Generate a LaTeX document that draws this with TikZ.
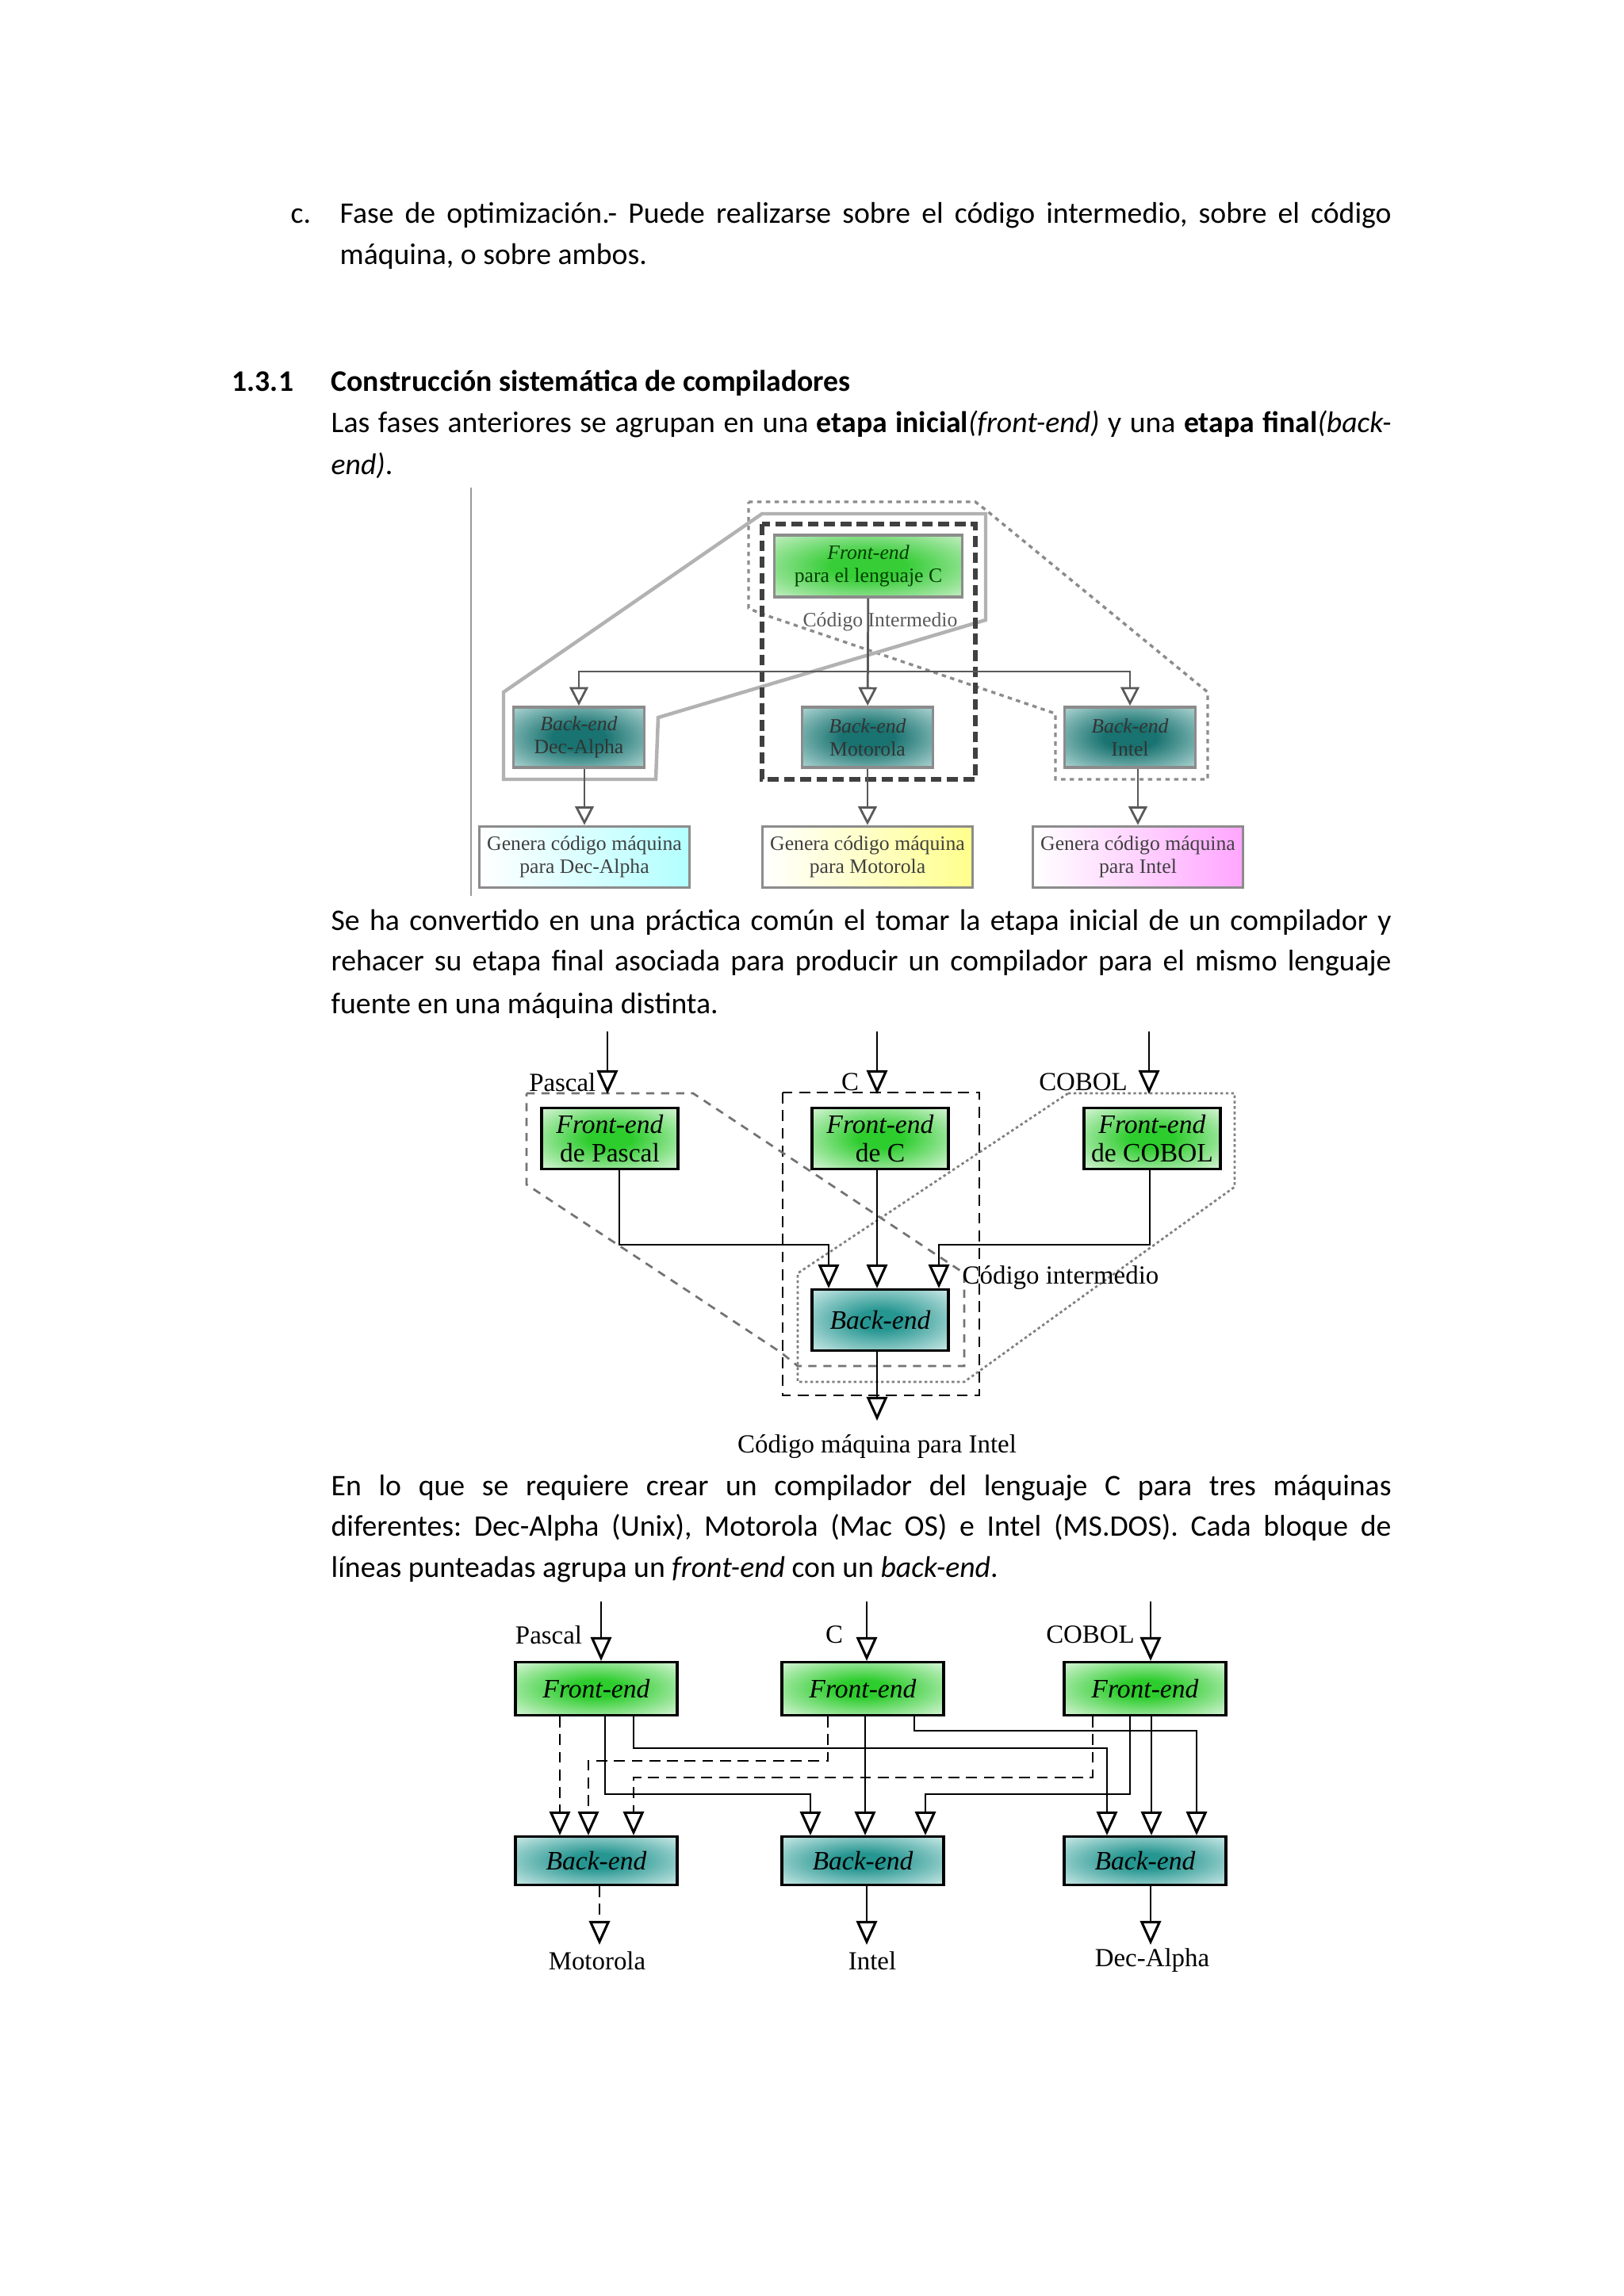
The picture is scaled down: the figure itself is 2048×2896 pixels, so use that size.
\documentclass[tikz,border=0pt]{standalone}
\usepackage{fontspec}
\setmainfont{Carlito}
\newfontfamily\diagfont{Liberation Serif}
\usetikzlibrary{arrows.meta}
\newlength\pxu
\setlength\pxu{0.010254cm}
\frenchspacing
\definecolor{feC}{RGB}{45,205,45}
\definecolor{feE}{RGB}{232,248,232}
\definecolor{beC}{RGB}{38,150,145}
\definecolor{beE}{RGB}{218,241,239}
\definecolor{feCa}{RGB}{55,205,55}
\definecolor{feEa}{RGB}{220,244,220}
\definecolor{beCa}{RGB}{25,115,112}
\definecolor{beEa}{RGB}{200,230,228}
\pgfdeclareradialshading{fegreen}{\pgfpoint{0bp}{0bp}}{color(0bp)=(feC); color(8bp)=(feC); color(38bp)=(feE); color(50bp)=(feE)}
\pgfdeclareradialshading{beteal}{\pgfpoint{0bp}{0bp}}{color(0bp)=(beC); color(8bp)=(beC); color(38bp)=(beE); color(50bp)=(beE)}
\pgfdeclareradialshading{fegreena}{\pgfpoint{0bp}{0bp}}{color(0bp)=(feCa); color(10bp)=(feCa); color(40bp)=(feEa); color(50bp)=(feEa)}
\pgfdeclareradialshading{betealx}{\pgfpoint{0bp}{0bp}}{color(0bp)=(beCa); color(10bp)=(beCa); color(40bp)=(beEa); color(50bp)=(beEa)}

\begin{document}
\begin{tikzpicture}[x=0.010254cm,y=-0.010254cm]
  \useasboundingbox[fill=white] (0,0) rectangle (2048,2896);
  \tikzstyle{para}=[anchor=base west,inner sep=0pt,font=\fontsize{11}{13}\selectfont]
  \tikzstyle{tri}=[-{Triangle[open,length=0.31cm,width=0.27cm,line width=0.9pt]}]
  \tikzstyle{tria}=[-{Triangle[open,length=0.24cm,width=0.24cm,line width=0.8pt]}]
  \tikzstyle{conn}=[draw=black,line width=0.6pt]
  \tikzstyle{conna}=[draw=black!65,line width=0.8pt]
  \tikzstyle{lbl}=[inner sep=0pt,font=\diagfont\fontsize{9.6}{10}\selectfont]
  \tikzstyle{fbox}=[draw=black,line width=0.9pt,shading=fegreen,align=center,inner sep=0pt,font=\diagfont\fontsize{9.8}{10.4}\selectfont]
  \tikzstyle{bbox}=[draw=black,line width=0.9pt,shading=beteal,align=center,inner sep=0pt,font=\diagfont\fontsize{9.8}{10.4}\selectfont]
  \tikzstyle{fboxa}=[draw=black!45,line width=1.1pt,shading=fegreena,align=center,inner sep=0pt,text=green!25!black,font=\diagfont\fontsize{7.5}{8.3}\selectfont,minimum width=237\pxu,minimum height=78\pxu]
  \tikzstyle{bboxa}=[draw=black!45,line width=1.1pt,shading=betealx,align=center,inner sep=0pt,text=black!80,font=\diagfont\fontsize{7.5}{8.3}\selectfont,minimum width=165\pxu,minimum height=76\pxu]
  \tikzstyle{gboxa}=[draw=black!45,line width=1.1pt,align=center,inner sep=0pt,text=black!75,font=\diagfont\fontsize{7.5}{8.3}\selectfont,minimum width=265\pxu,minimum height=77\pxu]

  % texto de la pagina
  \node[para] (t1a) at (366,281) {c.};
  \node[para] (t1) at (428,281) {\makebox[1326\pxu][s]{Fase de optimización.- Puede realizarse sobre el código intermedio, sobre el código}};
  \node[para] (t2) at (428,333) {máquina, o sobre ambos.};
  \node[para] (t3a) at (292,493) {\textbf{1.3.1}};
  \node[para] (t3) at (417,493) {\textbf{Construcción sistemática de compiladores}};
  \node[para] (t4) at (417,545) {\makebox[1337\pxu][s]{Las fases anteriores se agrupan en una \textbf{etapa inicial}\textit{(front-end)} y una \textbf{etapa final}\textit{(back-}}};
  \node[para] (t5) at (417,598) {\textit{end)}.};
  \node[para] (t6) at (417,1173) {\makebox[1337\pxu][s]{Se ha convertido en una práctica común el tomar la etapa inicial de un compilador y}};
  \node[para] (t7) at (417,1224) {\makebox[1337\pxu][s]{rehacer su etapa final asociada para producir un compilador para el mismo lenguaje}};
  \node[para] (t8) at (417,1278) {fuente en una máquina distinta.};
  \node[para] (t9) at (417,1886) {\makebox[1337\pxu][s]{En lo que se requiere crear un compilador del lenguaje C para tres máquinas}};
  \node[para] (t10) at (417,1937) {\makebox[1337\pxu][s]{diferentes: Dec-Alpha (Unix), Motorola (Mac OS) e Intel (MS.DOS). Cada bloque de}};
  \node[para] (t11) at (417,1989) {líneas punteadas agrupa un \textit{front-end} con un \textit{back-end}.};

  % figura 1
  \draw[black!40,line width=0.8pt] (594,615) -- (594,1130);
  \draw[black!45,line width=1pt,dash pattern=on 1.6pt off 1.6pt] (944,633) -- (1230,633) -- (1243,643) -- (1523,873) -- (1523,983) -- (1331,983) -- (1331,900) -- (957,773) -- (944,767) -- cycle;
  \draw[black!30,line width=1.3pt] (961,648) -- (1243,648) -- (1243,782) -- (830,905) -- (827,983) -- (635,983) -- (635,873) -- cycle;
  \draw[black!75,line width=1.6pt,dash pattern=on 4pt off 2pt] (961,661) rectangle (1230,983);
  \node[fboxa] (fe1) at (1095,714) {\textit{Front-end}\\para el lenguaje C};
  \node[bboxa] (bd1) at (730,930) {\textit{Back-end}\\Dec-Alpha};
  \node[bboxa] (bm1) at (1094,930) {\textit{Back-end}\\Motorola};
  \node[bboxa] (bi1) at (1425,930) {\textit{Back-end}\\Intel};
  \node[gboxa,left color=white,right color=cyan!30] (gd1) at (737,1081) {Genera código máquina\\para Dec-Alpha};
  \node[gboxa,left color=white,right color=yellow!45] (gm1) at (1094,1081) {Genera código máquina\\para Motorola};
  \node[gboxa,left color=white,right color=magenta!35] (gi1) at (1435,1081) {Genera código máquina\\para Intel};
  \node[inner sep=0pt,text=black!65,font=\diagfont\fontsize{7.5}{8}\selectfont] (ci1) at (1110,784) {Código Intermedio};
  \coordinate (cx1) at (1094,847);
  \draw[conna,tria] (fe1) -- (bm1);
  \draw[conna,tria] (cx1) -| (bd1.north);
  \draw[conna,tria] (cx1) -| (bi1.north);
  \draw[conna,tria] (bd1.south -| gd1.north) -- (gd1.north);
  \draw[conna,tria] (bm1) -- (gm1);
  \draw[conna,tria] (bi1.south -| gi1.north) -- (gi1.north);

  % figura 2
  \draw[black,line width=0.7pt,dash pattern=on 4pt off 2.5pt] (987,1378) rectangle (1235,1760);
  \draw[black!55,line width=0.8pt,dash pattern=on 3pt off 2.5pt] (664,1379) -- (874,1379) -- (1216,1606) -- (1216,1723) -- (1006,1723) -- (985,1706) -- (664,1494) -- cycle;
  \draw[black!50,line width=0.8pt,dash pattern=on 1pt off 1pt] (1347,1379) -- (1557,1379) -- (1557,1497) -- (1216,1743) -- (1006,1743) -- (1006,1606) -- cycle;
  \node[fbox,minimum width=172\pxu,minimum height=77\pxu] (fp2) at (769,1436) {\textit{Front-end}\\de Pascal};
  \node[fbox,minimum width=172\pxu,minimum height=77\pxu] (fc2) at (1110,1436) {\textit{Front-end}\\de C};
  \node[fbox,minimum width=172\pxu,minimum height=77\pxu] (fo2) at (1453,1436) {\textit{Front-end}\\de COBOL};
  \node[bbox,minimum width=172\pxu,minimum height=77\pxu] (be2) at (1110,1665) {\textit{Back-end}};
  \coordinate (ip2a) at (766,1301);
  \coordinate (ip2b) at (766,1380);
  \coordinate (ic2a) at (1106,1301);
  \coordinate (ic2b) at (1106,1380);
  \coordinate (io2a) at (1449,1301);
  \coordinate (io2b) at (1449,1380);
  \coordinate (out2) at (1106,1792);
  \draw[conn,tri] (ip2a) -- (ip2b);
  \draw[conn,tri] (ic2a) -- (ic2b);
  \draw[conn,tri] (io2a) -- (io2b);
  \node[lbl,anchor=east] (lp2) at (752,1365) {Pascal};
  \node[lbl] (lc2) at (1072,1365) {C};
  \node[lbl] (lo2) at (1366,1365) {COBOL};
  \draw[conn,tri] (781,0 |- fp2.south) |- (1045,1570) -- (1045,0 |- be2.north);
  \draw[conn,tri] (1106,0 |- fc2.south) -- (1106,0 |- be2.north);
  \draw[conn,tri] (1450,0 |- fo2.south) |- (1184,1570) -- (1184,0 |- be2.north);
  \draw[conn,tri] (1106,0 |- be2.south) -- (out2);
  \node[lbl,anchor=west] (ci2) at (1213,1612) {Código intermedio};
  \node[lbl] (cm2) at (1106,1825) {Código máquina para Intel};

  % figura 3
  \node[fbox,minimum width=204\pxu,minimum height=67\pxu] (fp3) at (752,2130) {\textit{Front-end}};
  \node[fbox,minimum width=204\pxu,minimum height=67\pxu] (fc3) at (1088,2130) {\textit{Front-end}};
  \node[fbox,minimum width=204\pxu,minimum height=67\pxu] (fo3) at (1444,2130) {\textit{Front-end}};
  \node[bbox,minimum width=204\pxu,minimum height=61\pxu] (bm3) at (752,2347) {\textit{Back-end}};
  \node[bbox,minimum width=204\pxu,minimum height=61\pxu] (bi3) at (1088,2347) {\textit{Back-end}};
  \node[bbox,minimum width=204\pxu,minimum height=61\pxu] (bd3) at (1444,2347) {\textit{Back-end}};
  \coordinate (ip3) at (758,2020);
  \coordinate (ic3) at (1093,2020);
  \coordinate (io3) at (1451,2020);
  \draw[conn,tri] (ip3) -- (ip3 |- fp3.north);
  \draw[conn,tri] (ic3) -- (ic3 |- fc3.north);
  \draw[conn,tri] (io3) -- (io3 |- fo3.north);
  \node[lbl] (lp3) at (692,2062) {Pascal};
  \node[lbl] (lc3) at (1052,2062) {C};
  \node[lbl] (lo3) at (1375,2062) {COBOL};
  % desde Pascal
  \draw[conn,tri,dash pattern=on 4pt off 2.5pt] (706,0 |- fp3.south) -- (706,0 |- bm3.north);
  \draw[conn,tri] (763,0 |- fp3.south) |- (1022,2263) -- (1022,0 |- bi3.north);
  \draw[conn,tri] (799,0 |- fp3.south) |- (1396,2205) -- (1396,0 |- bd3.north);
  % desde C
  \draw[conn,tri,dash pattern=on 4pt off 2.5pt] (1044,0 |- fc3.south) |- (742,2221) -- (742,0 |- bm3.north);
  \draw[conn,tri] (1091,0 |- fc3.south) -- (1091,0 |- bi3.north);
  \draw[conn,tri] (1153,0 |- fc3.south) |- (1509,2183) -- (1509,0 |- bd3.north);
  % desde COBOL
  \draw[conn,tri,dash pattern=on 4pt off 2.5pt] (1378,0 |- fo3.south) |- (799,2242) -- (799,0 |- bm3.north);
  \draw[conn,tri] (1425,0 |- fo3.south) |- (1167,2263) -- (1167,0 |- bi3.north);
  \draw[conn,tri] (1452,0 |- fo3.south) -- (1452,0 |- bd3.north);
  % salidas
  \coordinate (om3) at (756,2453);
  \coordinate (oi3) at (1093,2453);
  \coordinate (od3) at (1451,2453);
  \draw[conn,tri,dash pattern=on 4pt off 2.5pt] (om3 |- bm3.south) -- (om3);
  \draw[conn,tri] (oi3 |- bi3.south) -- (oi3);
  \draw[conn,tri] (od3 |- bd3.south) -- (od3);
  \node[lbl] (lm3) at (753,2473) {Motorola};
  \node[lbl] (li3) at (1100,2473) {Intel};
  \node[lbl] (ld3) at (1453,2473) {Dec-Alpha};
\end{tikzpicture}
\end{document}
